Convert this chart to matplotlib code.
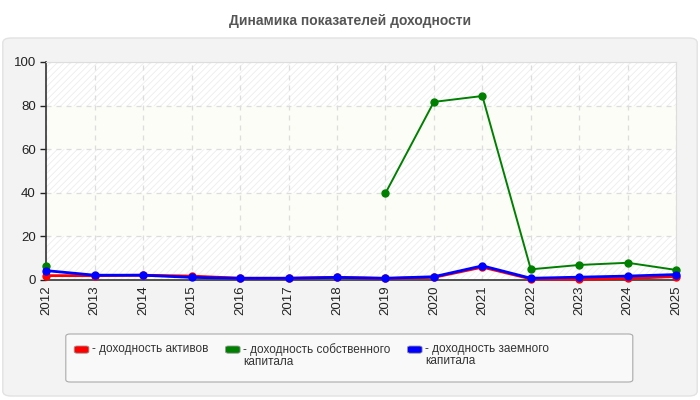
import numpy as np
import matplotlib
matplotlib.use('Agg')
import matplotlib.pyplot as plt
from matplotlib.patches import FancyBboxPatch

plt.rcParams['font.family'] = ['Liberation Sans', 'DejaVu Sans']
plt.rcParams['hatch.color'] = '#e6e6e6'
plt.rcParams['hatch.linewidth'] = 0.6

# данные
years = list(range(2012, 2026))
roa = [2.0, 2.0, 2.2, 1.8, 0.8, 0.8, 1.2, 0.7, 1.2, 5.9, 0.5, 0.3, 0.7, 1.6]
roe = [6.3, np.nan, np.nan, np.nan, np.nan, np.nan, np.nan,
       39.8, 81.7, 84.4, 4.9, 6.9, 7.9, 4.6]
rod = [4.3, 2.2, 2.2, 1.2, 0.8, 0.8, 1.2, 0.8, 1.5, 6.5, 0.8, 1.3, 1.8, 2.5]

series = [
    (roa, 'red', 2.0, '- доходность активов'),
    (roe, 'green', 1.4, '- доходность собственного\nкапитала'),
    (rod, 'blue', 2.0, '- доходность заемного\nкапитала'),
]

fig = plt.figure(figsize=(7, 4), dpi=100)
fig.patch.set_facecolor('white')

# панель
panel = FancyBboxPatch((0.004, 0.01), 0.992, 0.895, boxstyle='round,pad=0,rounding_size=0.012',
                       transform=fig.transFigure, facecolor='#f3f3f3', edgecolor='#e2e2e2',
                       linewidth=1, zorder=-10)
fig.patches.append(panel)

fig.text(0.5, 0.948, 'Динамика показателей доходности', ha='center', va='center',
         fontsize=10, fontweight='bold', color='#555555')

ax = fig.add_axes([0.066, 0.3, 0.9, 0.545])
ax.set_zorder(5)
ax.set_facecolor('white')
for lo in range(0, 100, 20):
    if (lo // 20) % 2 == 0:
        ax.axhspan(lo, lo + 20, facecolor='white', hatch='/////', edgecolor='#ededed',
                   linewidth=0, zorder=0)
    else:
        ax.axhspan(lo, lo + 20, facecolor='#fcfdf6', linewidth=0, zorder=0)

ax.grid(True, linestyle=(0, (4, 4)), color='#dddddd', linewidth=0.9)
ax.set_axisbelow(True)

for vals, color, lw, label in series:
    ax.plot(years, vals, color=color, linewidth=lw, marker='o', markersize=5, zorder=3,
            clip_on=False)

ax.set_xlim(2012, 2025)
ax.set_ylim(0, 100)
ax.set_xticks(years)
ax.set_xticklabels([str(y) for y in years], rotation=90)
ax.set_yticks(range(0, 101, 20))
ax.tick_params(axis='both', labelsize=9.5, colors='#222222', length=4, width=1)
ax.tick_params(axis='x', length=0, pad=4)
for s in ['top', 'right']:
    ax.spines[s].set_color('#dddddd')
for s in ['left', 'bottom']:
    ax.spines[s].set_color('#333333')
    ax.spines[s].set_linewidth(1.2)

# легенда
leg = FancyBboxPatch((0.094, 0.045), 0.81, 0.12, boxstyle='round,pad=0,rounding_size=0.006',
                     transform=fig.transFigure, facecolor='#f9f9f9', edgecolor='#aaaaaa',
                     linewidth=0.8, zorder=1)
fig.patches.append(leg)
xs = [0.106, 0.322, 0.582]
for (vals, color, lw, label), x0 in zip(series, xs):
    fig.patches.append(FancyBboxPatch((x0, 0.117), 0.021, 0.018,
                                      boxstyle='round,pad=0,rounding_size=0.004',
                                      transform=fig.transFigure, facecolor=color,
                                      edgecolor='#999999', linewidth=0.6, zorder=2))
    fig.text(x0 + 0.025, 0.142, label, ha='left', va='top', fontsize=8.5,
             color='#333333', linespacing=1.0)

fig.savefig('out.png', dpi=100)
